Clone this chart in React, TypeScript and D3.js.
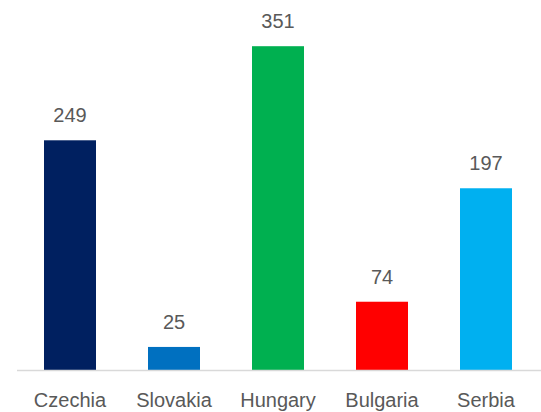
import React, { useRef, useEffect } from "react";
import * as d3 from "d3";

const countries = ["Czechia", "Slovakia", "Hungary", "Bulgaria", "Serbia"];
const values = [249, 25, 351, 74, 197];
const colors = ["#002060", "#0070C0", "#00B050", "#FF0000", "#00B0F0"];

const App = () => {
	const chartRef = useRef<SVGSVGElement>(null);

	useEffect(() => {
		const width = 541;
		const height = 412;
		const baseY = 370;

		const svg = d3.select(chartRef.current).attr("width", width).attr("height", height);
		svg.selectAll("*").remove();

		const x = d3
			.scaleBand()
			.domain(countries)
			.range([18, 538])
			.paddingInner(0.5)
			.paddingOuter(0.25);

		const y = d3.scaleLinear().domain([0, 400]).range([baseY, 1]);

		const data = countries.map((c, i) => ({ country: c, value: values[i], color: colors[i] }));

		// bars
		svg
			.selectAll(".bar")
			.data(data)
			.enter()
			.append("rect")
			.attr("class", "bar")
			.attr("x", d => x(d.country)!)
			.attr("y", d => y(d.value))
			.attr("width", x.bandwidth())
			.attr("height", d => y(0) - y(d.value))
			.attr("fill", d => d.color);

		// baseline
		svg
			.append("line")
			.attr("x1", 17)
			.attr("x2", width)
			.attr("y1", baseY + 0.5)
			.attr("y2", baseY + 0.5)
			.attr("stroke", "#D9D9D9")
			.attr("stroke-width", 1.5);

		// value labels
		svg
			.selectAll(".val")
			.data(data)
			.enter()
			.append("text")
			.attr("class", "val")
			.attr("x", d => x(d.country)! + x.bandwidth() / 2)
			.attr("y", d => y(d.value) - 18)
			.attr("text-anchor", "middle")
			.attr("fill", "#595959")
			.style("font-family", "'Liberation Sans', Arial, sans-serif")
			.style("font-size", "20px")
			.text(d => d.value);

		// category labels
		svg
			.selectAll(".cat")
			.data(data)
			.enter()
			.append("text")
			.attr("class", "cat")
			.attr("x", d => x(d.country)! + x.bandwidth() / 2)
			.attr("y", 407)
			.attr("text-anchor", "middle")
			.attr("fill", "#595959")
			.style("font-family", "'Liberation Sans', Arial, sans-serif")
			.style("font-size", "20px")
			.text(d => d.country);
	}, []);

	return (
		<div style={{ position: "absolute", top: 0, left: 0, background: "#fff" }}>
			<svg ref={chartRef} style={{ display: "block" }}></svg>
		</div>
	);
};

export default App;
